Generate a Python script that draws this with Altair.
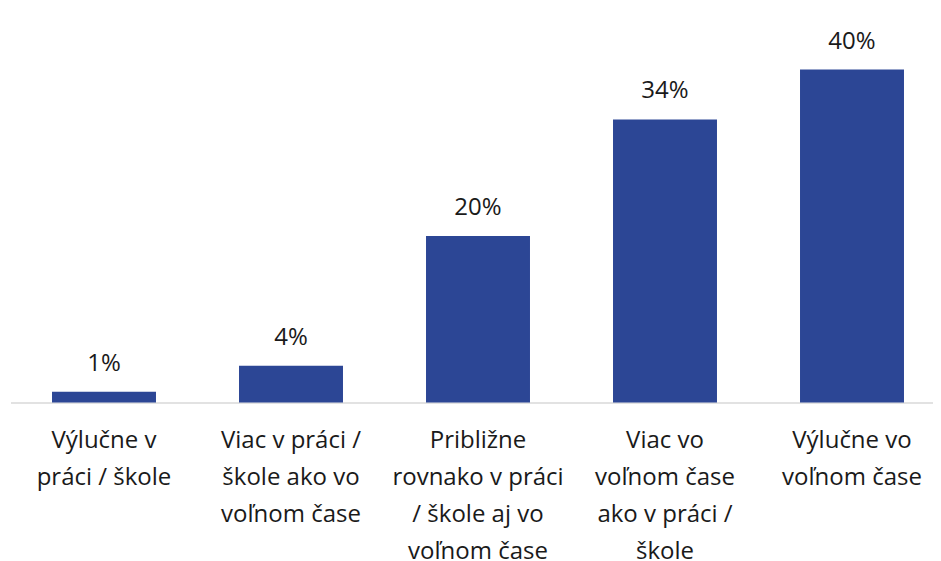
import altair as alt
import pandas as pd

categories = [
    "Výlučne v|práci / škole",
    "Viac v práci /|škole ako vo|voľnom čase",
    "Približne|rovnako v práci|/ škole aj vo|voľnom čase",
    "Viac vo|voľnom čase|ako v práci /|škole",
    "Výlučne vo|voľnom čase",
]
values = [1.3, 4.4, 20.0, 34.0, 40.0]
labels = ["1%", "4%", "20%", "34%", "40%"]

df = pd.DataFrame({"cat": categories, "val": values, "lab": labels})

FONT = "Open Sans"
BAR = "#2c4695"
TXT = "#1a1a1a"

x = alt.X(
    "cat:N",
    sort=categories,
    scale=alt.Scale(range=[0, 935], paddingInner=0.444, paddingOuter=0.222),
    axis=alt.Axis(
        title=None,
        ticks=False,
        domain=True,
        domainColor="#d9d9d9",
        domainWidth=1.5,
        labelAngle=0,
        labelExpr="split(datum.label, '|')",
        labelFont=FONT,
        labelFontSize=24,
        labelColor=TXT,
        labelLineHeight=37,
        labelPadding=26,
        labelLimit=400,
        labelOverlap=False,
        labelBaseline="top",
    ),
)
y = alt.Y("val:Q", scale=alt.Scale(domain=[0, 47.39], nice=False), axis=None)

bars = alt.Chart(df).mark_bar(color=BAR).encode(x=x, y=y)
text = alt.Chart(df).mark_text(
    font=FONT, fontSize=24, color=TXT, baseline="alphabetic", dy=-21
).encode(x=x, y=y, text="lab:N")

chart = (
    alt.layer(bars, text)
    .properties(
        width=922.5,
        height=394.5,
        autosize=alt.AutoSizeParams(type="none"),
        padding={"left": 2.5, "top": 0, "right": 0, "bottom": 158.5},
        view=alt.ViewBackground(stroke="#ffffff", strokeWidth=0, strokeOpacity=0),
    )
    .configure_view(stroke="#ffffff", strokeWidth=0, strokeOpacity=0)
    .configure(background="white")
)

chart.save("out.html", embed_options={"renderer": "svg", "actions": False})
